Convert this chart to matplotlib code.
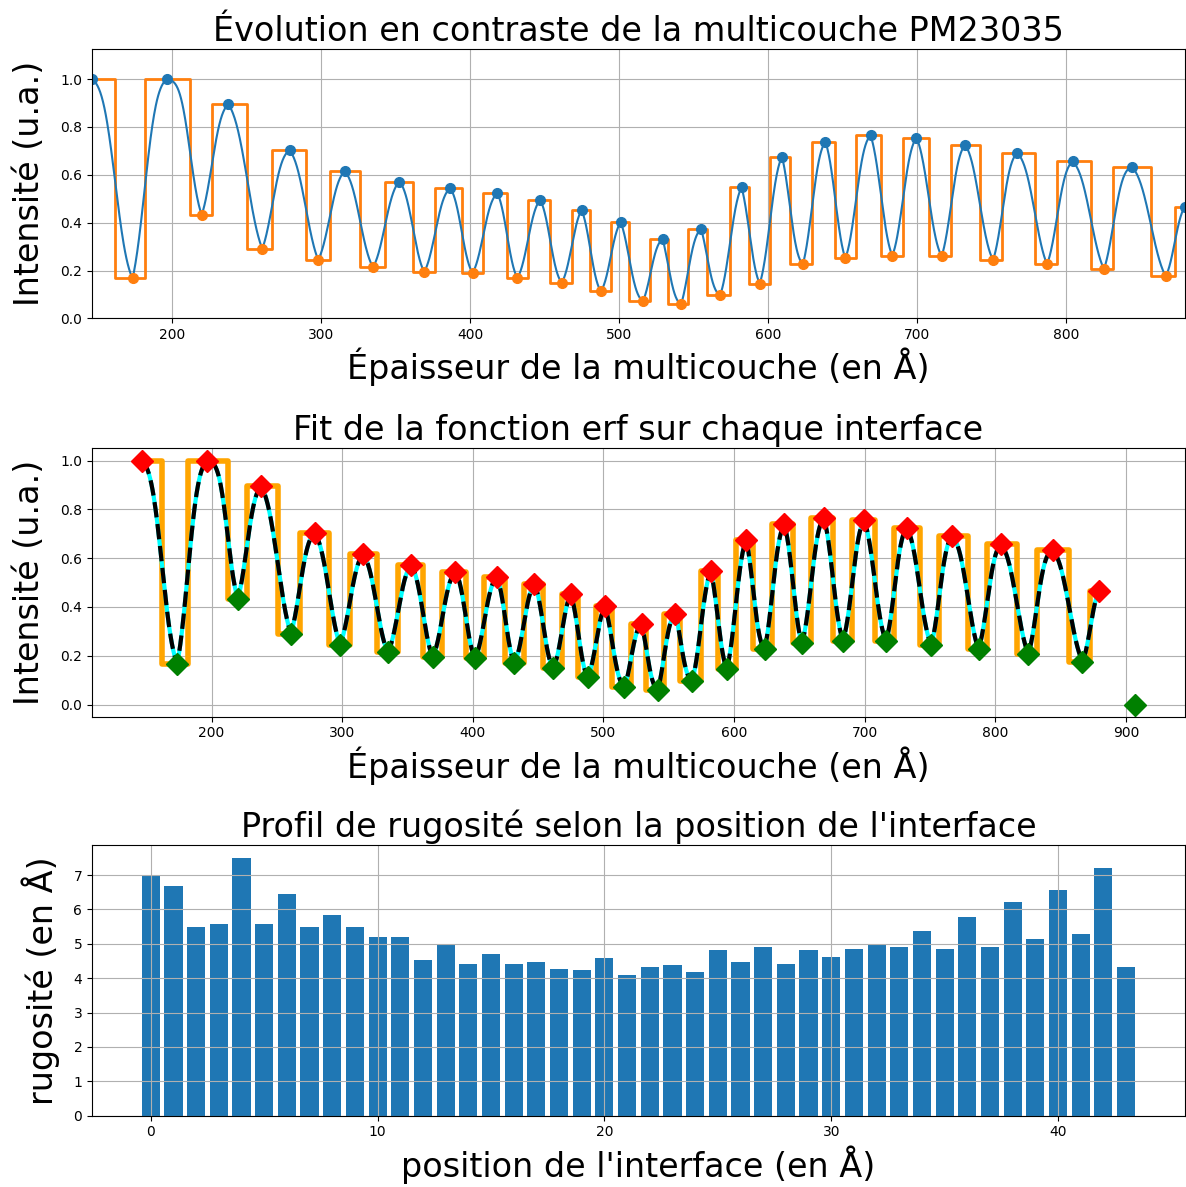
import math
import numpy as np
import matplotlib
matplotlib.use("Agg")
import matplotlib.pyplot as plt

# Maxima / minima du profil (épaisseur en Å, intensité normalisée)
x_max = [146.5, 196.7, 237.9, 279.0, 316.0, 352.7, 386.7, 418.4, 447.1, 474.9, 501.1, 529.3,
         555.1, 582.2, 609.3, 638.4, 668.7, 699.5, 732.2, 767.1, 804.2, 843.8, 879.5]
y_max = [1.0, 1.0, 0.895, 0.703, 0.615, 0.572, 0.544, 0.523, 0.495, 0.453, 0.402, 0.331,
         0.373, 0.548, 0.676, 0.738, 0.765, 0.755, 0.725, 0.691, 0.656, 0.634, 0.466]
x_min = [173.7, 220.1, 260.7, 298.2, 335.0, 369.3, 401.8, 431.8, 461.6, 487.8, 516.0, 541.6,
         567.8, 594.4, 623.3, 651.8, 683.3, 716.4, 750.9, 787.1, 825.3, 866.7, 907.0]
y_min = [0.167, 0.433, 0.291, 0.245, 0.214, 0.194, 0.190, 0.169, 0.149, 0.113, 0.072, 0.058,
         0.097, 0.145, 0.226, 0.251, 0.262, 0.260, 0.244, 0.226, 0.206, 0.176, 0.0]

# position des interfaces (Å)
interfaces = [162.1, 181.7, 212.3, 226.8, 250.7, 267.4, 290.0, 305.8, 326.3, 342.9,
              361.8, 376.7, 394.4, 408.9, 424.9, 438.9, 453.8, 468.2, 480.7, 494.4,
              506.7, 521.1, 532.7, 546.2, 558.9, 574.4, 587.3, 601.1, 614.4, 629.3,
              645.1, 658.9, 675.6, 690.4, 707.6, 722.7, 742.0, 757.1, 778.9, 793.8,
              816.4, 831.6, 856.7, 872.7]

# rugosité de chaque interface (Å)
rugosite = [7.0, 6.67, 5.5, 5.59, 7.5, 5.59, 6.44, 5.5, 5.84, 5.5,
            5.21, 5.21, 4.52, 4.98, 4.42, 4.71, 4.42, 4.47, 4.28, 4.23,
            4.58, 4.08, 4.32, 4.37, 4.17, 4.81, 4.47, 4.91, 4.42, 4.81,
            4.62, 4.86, 4.98, 4.91, 5.36, 4.86, 5.78, 4.91, 6.22, 5.15,
            6.57, 5.29, 7.2, 4.32]

# extrema dans l'ordre (max, min, max, ...) jusqu'au dernier max
ext_x, ext_y = [], []
for i in range(len(x_max)):
    ext_x.append(x_max[i]); ext_y.append(y_max[i])
    if i < len(x_max) - 1:
        ext_x.append(x_min[i]); ext_y.append(y_min[i])

verf = np.vectorize(math.erf)

# profil erf sur chaque interface
xc, yc = [], []
for i in range(len(interfaces)):
    xs = np.linspace(ext_x[i], ext_x[i + 1], 60)
    e = verf((xs - interfaces[i]) / (np.sqrt(2) * rugosite[i]))
    ys = ext_y[i] + (ext_y[i + 1] - ext_y[i]) * (e - e[0]) / (e[-1] - e[0])
    xc.extend(xs); yc.extend(ys)
xc = np.array(xc); yc = np.array(yc)

# fonction créneau
edges = [ext_x[0]] + interfaces + [ext_x[-1]]
levels = ext_y + [ext_y[-1]]

fs = 24

fig = plt.figure(figsize=(11.86, 11.87), dpi=100)
ax1 = fig.add_axes([0.0776, 0.7318, 0.9214, 0.2267])
ax2 = fig.add_axes([0.0776, 0.3962, 0.9214, 0.2261])
ax3 = fig.add_axes([0.0776, 0.0601, 0.9214, 0.2280])

# --- évolution en contraste
ax1.step(edges, levels, where='post', color='C1', lw=2)
ax1.plot(xc, yc, color='C0', lw=1.5)
ax1.plot(x_max, y_max, 'o', color='C0', ms=7)
ax1.plot(x_min, y_min, 'o', color='C1', ms=7)
ax1.set_xlim(ext_x[0], ext_x[-1])
ax1.set_ylim(0, 1.125)
ax1.set_title("Évolution en contraste de la multicouche PM23035", fontsize=fs)
ax1.set_xlabel("Épaisseur de la multicouche (en Å)", fontsize=fs)
ax1.set_ylabel("Intensité (u.a.)", fontsize=fs, labelpad=10)
ax1.grid(True)

# --- fit erf
ax2.step(edges, levels, where='post', color='orange', lw=4)
ax2.plot(xc, yc, color='cyan', lw=3)
ax2.plot(xc, yc, '--', color='black', lw=3)
ax2.plot(x_max, y_max, 'D', color='red', ms=11)
ax2.plot(x_min, y_min, 'D', color='green', ms=11)
ax2.set_title("Fit de la fonction erf sur chaque interface", fontsize=fs)
ax2.set_xlabel("Épaisseur de la multicouche (en Å)", fontsize=fs)
ax2.set_ylabel("Intensité (u.a.)", fontsize=fs, labelpad=10)
ax2.grid(True)

# --- rugosité
ax3.bar(np.arange(len(rugosite)), rugosite)
ax3.set_title("Profil de rugosité selon la position de l'interface", fontsize=fs)
ax3.set_xlabel("position de l'interface (en Å)", fontsize=fs)
ax3.set_ylabel("rugosité (en Å)", fontsize=fs, labelpad=10)
ax3.grid(True)

plt.savefig("out.png", dpi=100)
